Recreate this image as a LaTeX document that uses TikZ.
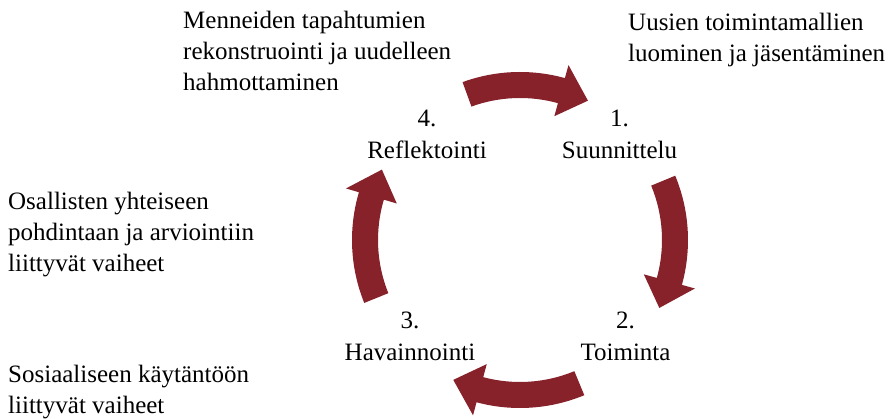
\documentclass[tikz,border=0pt]{standalone}
\usepackage{fontspec}
\setmainfont{Liberation Serif}
\usetikzlibrary{calc}
\definecolor{cyclered}{HTML}{87212A}

% curved block arrow along the cycle, running clockwise from #1 to #2 (degrees)
\newcommand{\cyclearrow}[2]{%
  \pgfmathsetmacro{\headbase}{#2+10.5}%
  \fill[cyclered]
    (#1:\rout) arc[start angle=#1, end angle=\headbase, radius=\rout]
    -- (\headbase:\rheadout) -- (#2:\rmid) -- (\headbase:\rheadin)
    -- (\headbase:\rin) arc[start angle=\headbase, end angle=#1, radius=\rin]
    -- cycle;}

\begin{document}
\begin{tikzpicture}[x=1pt,y=1pt,
  label/.style={inner sep=0pt, font=\fontsize{25}{31}\selectfont},
  note/.style={label, align=left, anchor=base west},
  stage/.style={label, font=\fontsize{25}{32.5}\selectfont, align=center, anchor=base}]
\useasboundingbox (0,0) rectangle (895,419);

% cycle of four arrows
\def\rmid{155pt}
\def\rout{168pt}
\def\rin{142pt}
\def\rheadout{181.5pt}
\def\rheadin{128.5pt}
\begin{scope}[shift={(520,179)}]
  \cyclearrow{110}{64}
  \cyclearrow{22.5}{-26}
  \cyclearrow{-67.5}{-115.5}
  \cyclearrow{-158}{-207}
\end{scope}

% stage labels (anchored at the baseline of their last line)
\node[stage] (s4) at (427,260) {4.\\Reflektointi};
\node[stage] (s1) at (619.5,260) {1.\\Suunnittelu};
\node[stage] (s3) at (410,58) {3.\\Havainnointi};
\node[stage] (s2) at (625.5,58) {2.\\Toiminta};

% side notes
\node[note] (past) at (183,328) {Menneiden tapahtumien\\rekonstruointi ja uudelleen\\hahmottaminen};
\node[note] (new) at (628,357) {Uusien toimintamallien\\luominen ja jäsentäminen};
\node[note] (reflect) at (8,147) {Osallisten yhteiseen\\pohdintaan ja arviointiin\\liittyvät vaiheet};
\node[note] (social) at (8,5) {Sosiaaliseen käytäntöön\\liittyvät vaiheet};
\end{tikzpicture}
\end{document}
